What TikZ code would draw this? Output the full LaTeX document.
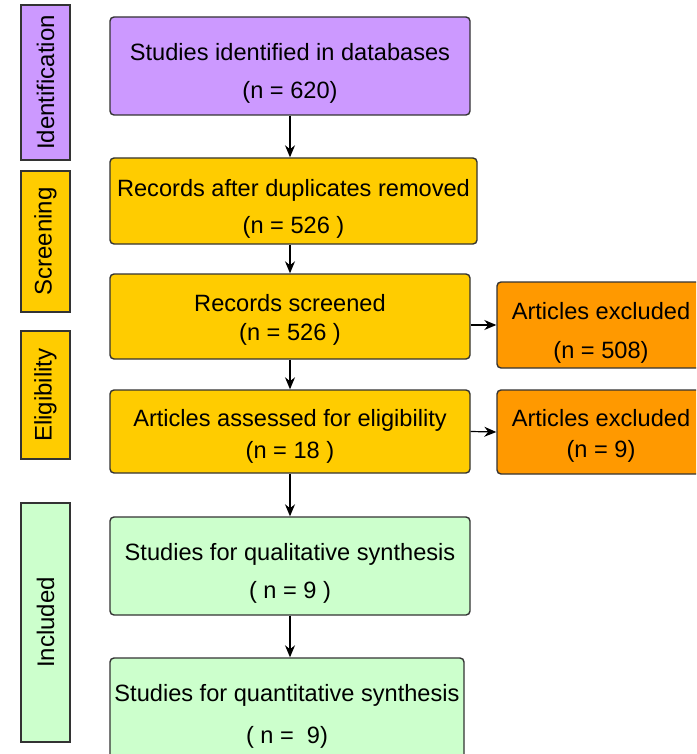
\documentclass[tikz,border=0pt]{standalone}
\usepackage{fontspec}
\setmainfont{Liberation Sans}
\usetikzlibrary{positioning,arrows.meta}
\definecolor{idpurple}{HTML}{CC99FF}
\definecolor{scryellow}{HTML}{FFCC00}
\definecolor{exorange}{HTML}{FF9900}
\definecolor{incgreen}{HTML}{CCFFCC}
% strut that pushes the text of a box down a little
\newcommand{\lowered}[1]{\rule{0pt}{#1}}

\begin{document}
\begin{tikzpicture}[x=0.5pt,y=-0.5pt,
  box/.style={draw=black!80, line width=0.7pt, rounded corners=2pt, align=center, inner sep=0pt, font=\fontsize{11.8}{14}\selectfont},
  stage/.style={draw=black!80, line width=0.7pt, rotate=90, minimum height=24.5pt, inner sep=0pt, font=\fontsize{12}{14}\selectfont},
  flow/.style={-{Stealth[length=6pt,width=5pt]}, line width=0.6pt}]
\useasboundingbox (0,0) rectangle (696,754);
\clip (0,0) rectangle (696,754);
% stage labels
\node[stage, fill=idpurple, minimum width=77.5pt] (identlab) at (45.5,82.5) {Identification};
\node[stage, fill=scryellow, minimum width=70.5pt] (screenlab) at (45.5,241.5) {Screening};
\node[stage, fill=scryellow, minimum width=64pt] (eliglab) at (45.5,395) {Eligibility};
\node[stage, fill=incgreen, minimum width=119.5pt] (incllab) at (45.5,622.5) {Included};
% flow boxes
\node[box, fill=idpurple, minimum width=180pt, minimum height=49pt] (ident) at (290,66) {\lowered{15.6pt}Studies identified in databases\\[5pt](n = 620)};
\node[box, fill=scryellow, minimum width=183.5pt, minimum height=43pt] (dupl) at (293.5,201) {\lowered{16pt}Records after duplicates removed\\[4.5pt](n = 526 )};
\node[box, fill=scryellow, minimum width=180pt, minimum height=42.5pt] (screen) at (290,316.5) {\lowered{11.6pt}Records screened\\[0.5pt](n = 526 )};
\node[box, fill=scryellow, minimum width=180pt, minimum height=41.5pt] (assess) at (290,431.5) {\lowered{13.6pt}Articles assessed for eligibility\\[2pt](n = 18 )};
\node[box, fill=exorange, minimum width=104pt, minimum height=43pt] (excl1) at (601,325) {\lowered{16.6pt}Articles excluded\\[5.5pt](n = 508)};
\node[box, fill=exorange, minimum width=104pt, minimum height=42pt] (excl2) at (601,432) {\lowered{12.6pt}Articles excluded\\[1.5pt](n = 9)};
\node[box, fill=incgreen, minimum width=180pt, minimum height=49pt] (qual) at (290,566) {\lowered{15.6pt}Studies for qualitative synthesis\\[5pt]( n = 9 )};
\node[box, fill=incgreen, minimum width=177pt, minimum height=56pt] (quant) at (287,714) {\lowered{10.6pt}Studies for quantitative synthesis\\[7pt]( n = \ 9)};
% arrows
\draw[flow] (ident.south) -- (ident.south |- dupl.north);
\draw[flow] (screen.north |- dupl.south) -- (screen.north);
\draw[flow] (screen.south) -- (assess.north);
\draw[flow] (screen.east |- excl1.west) -- (excl1.west);
\draw[flow] (assess.east) -- (excl2.west);
\draw[flow] (assess.south) -- (qual.north);
\draw[flow] (qual.south) -- (qual.south |- quant.north);
\end{tikzpicture}
\end{document}
